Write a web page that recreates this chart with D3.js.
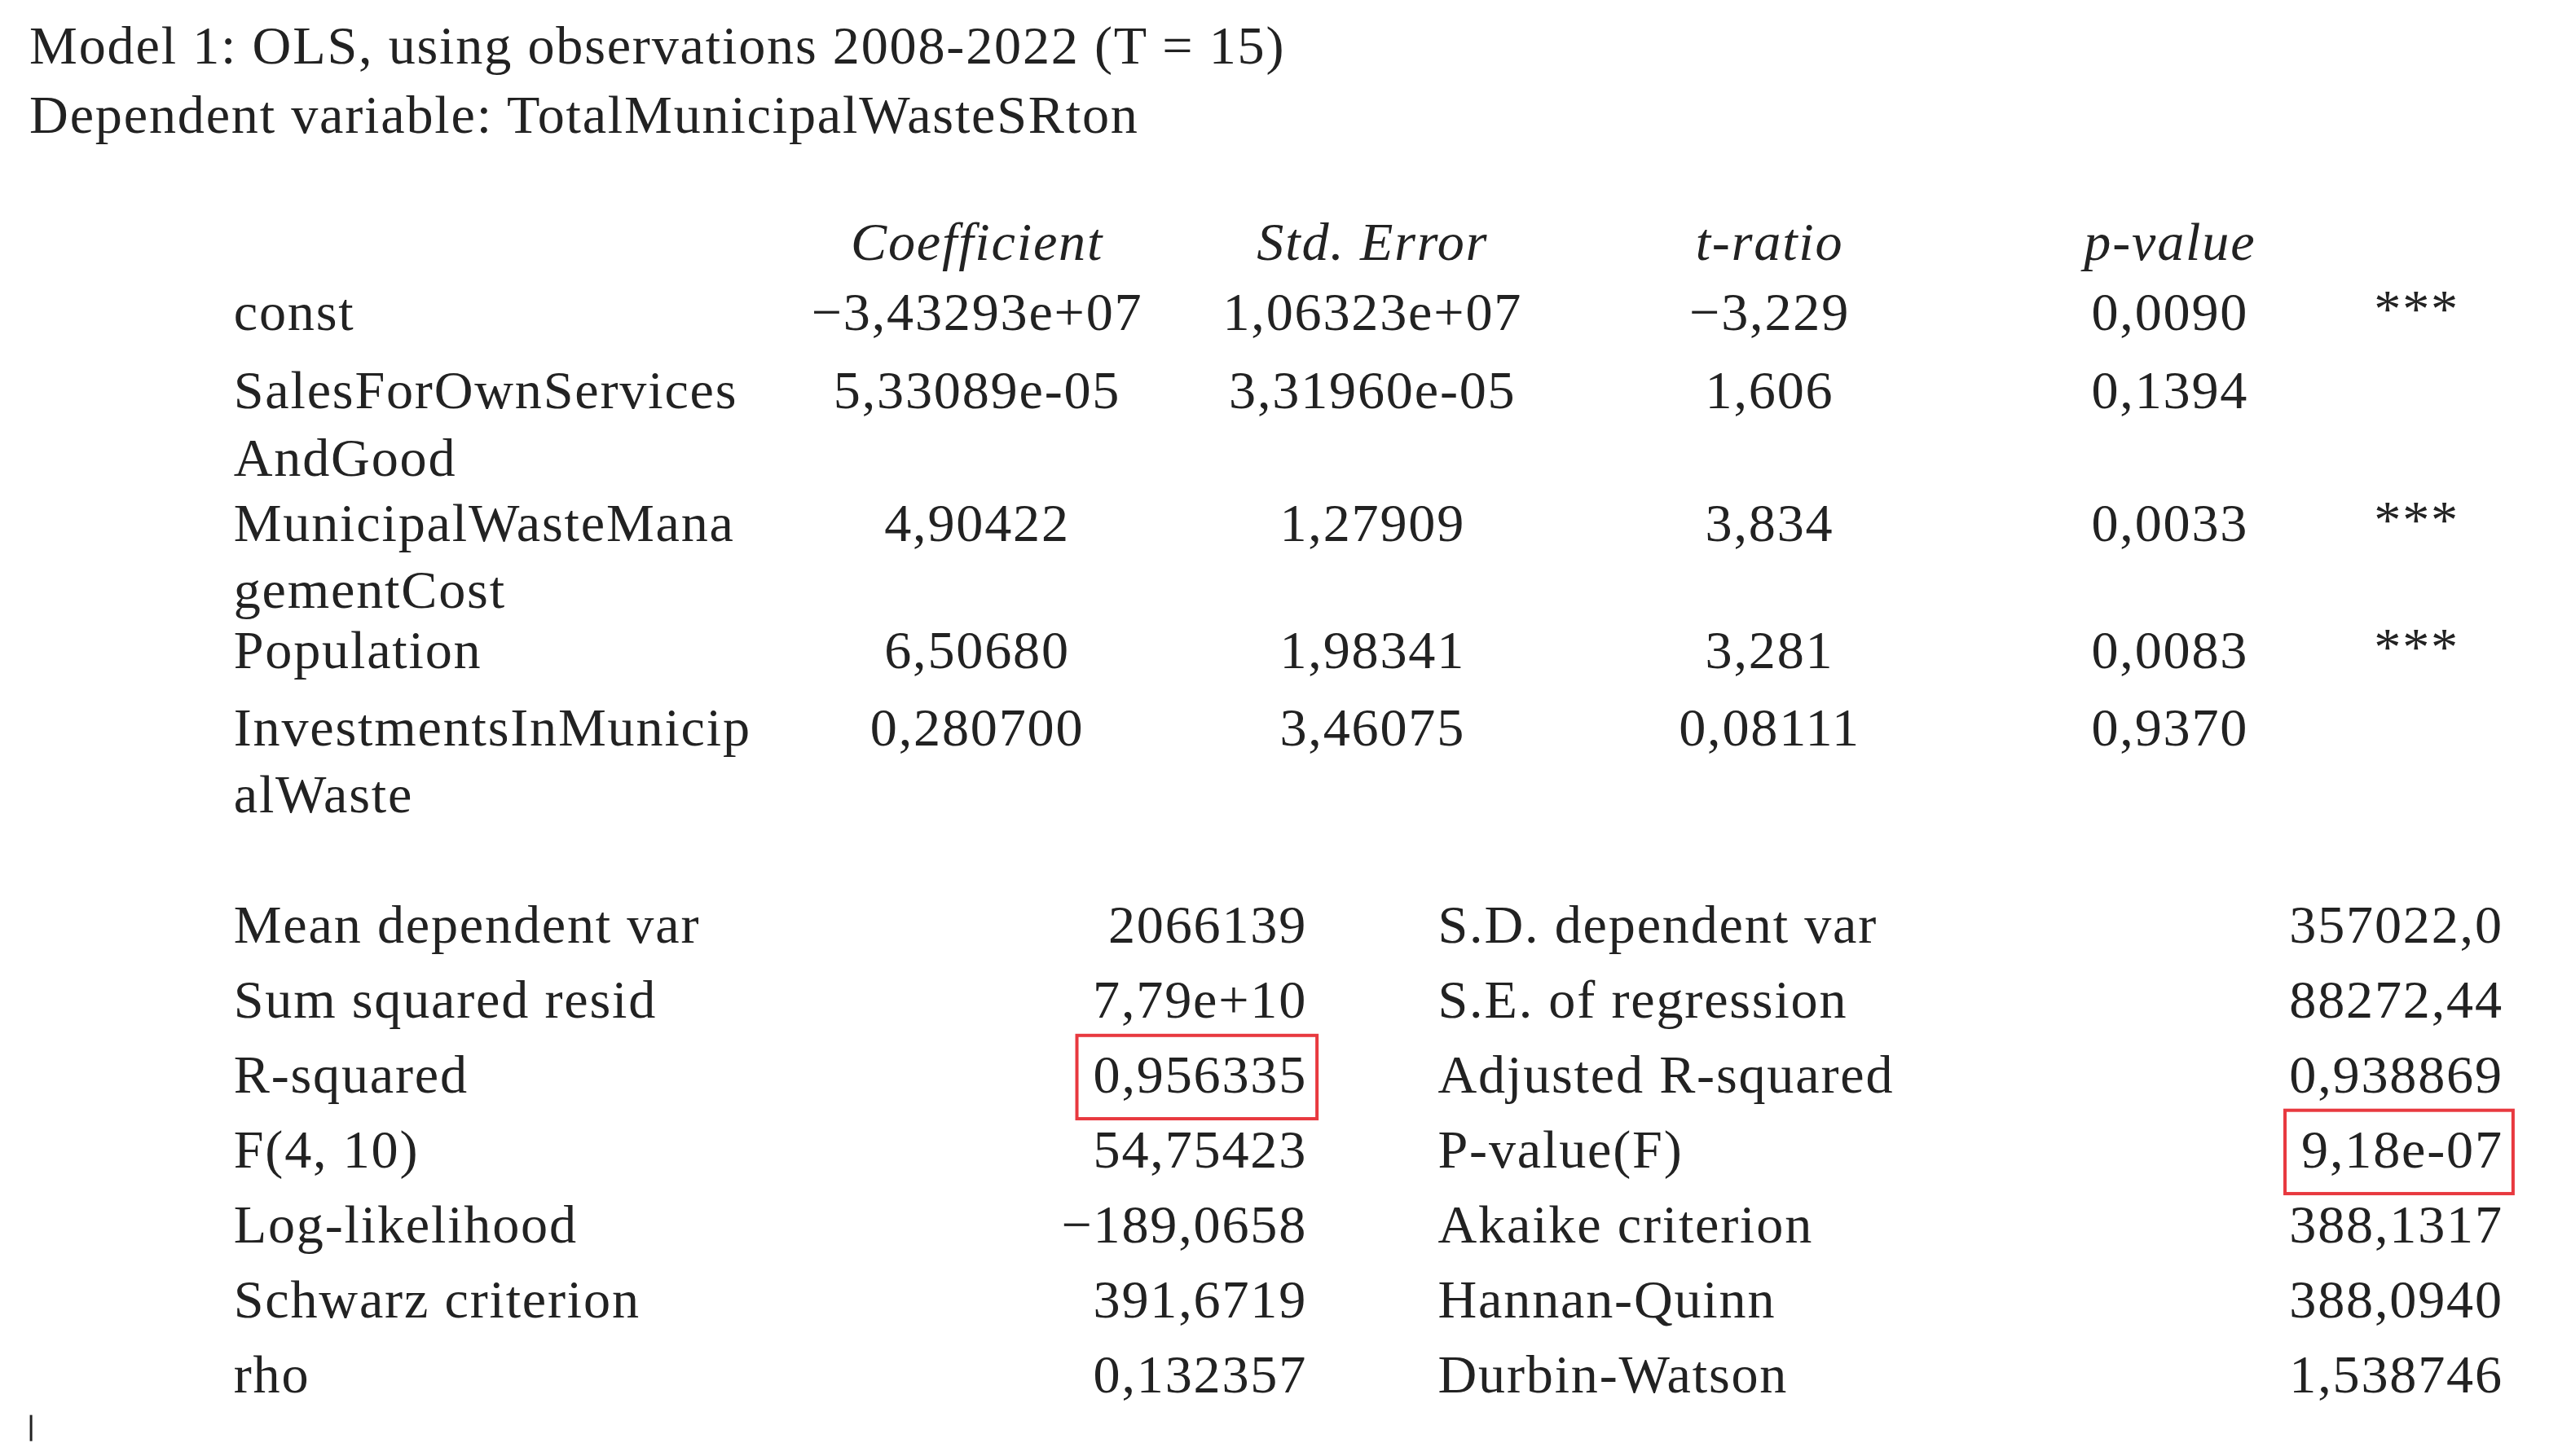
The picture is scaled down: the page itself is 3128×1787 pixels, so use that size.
<!DOCTYPE html>
<html>
<head>
<meta charset="utf-8">
<script src="https://cdn.jsdelivr.net/npm/d3@7"></script>
<style>
  html, body { margin: 0; padding: 0; background: #fff; }
  svg text { font-family: "Liberation Serif", "DejaVu Serif", serif; fill: #222; letter-spacing: 0.9px; }
</style>
</head>
<body>
<svg id="chart" width="3128" height="1787" viewBox="0 0 1560 891"></svg>
<script>
// coefficient table
var varNames = [["const"], ["SalesForOwnServices", "AndGood"], ["MunicipalWasteMana", "gementCost"], ["Population"], ["InvestmentsInMunicip", "alWaste"]];
var coefficients = ["\u22123,43293e+07", "5,33089e-05", "4,90422", "6,50680", "0,280700"];
var stdErrors = ["1,06323e+07", "3,31960e-05", "1,27909", "1,98341", "3,46075"];
var tRatios = ["\u22123,229", "1,606", "3,834", "3,281", "0,08111"];
var pValues = ["0,0090", "0,1394", "0,0033", "0,0083", "0,9370"];
var stars = ["***", "", "***", "***", ""];
var headers = ["Coefficient", "Std. Error", "t-ratio", "p-value"];
var rowBaselines = [202, 250, 331, 409, 456];

// summary statistics
var statLabelsL = ["Mean dependent var", "Sum squared resid", "R-squared", "F(4, 10)", "Log-likelihood", "Schwarz criterion", "rho"];
var statValuesL = ["2066139", "7,79e+10", "0,956335", "54,75423", "\u2212189,0658", "391,6719", "0,132357"];
var statLabelsR = ["S.D. dependent var", "S.E. of regression", "Adjusted R-squared", "P-value(F)", "Akaike criterion", "Hannan-Quinn", "Durbin-Watson"];
var statValuesR = ["357022,0", "88272,44", "0,938869", "9,18e-07", "388,1317", "388,0940", "1,538746"];
var highlighted = [["L", 2], ["R", 3]];

var svg = d3.select("#chart");
var fs = 33;

svg.append("text").attr("x", 18).attr("y", 39).attr("font-size", fs)
  .text("Model 1: OLS, using observations 2008-2022 (T = 15)");
svg.append("text").attr("x", 18).attr("y", 81).attr("font-size", fs)
  .text("Dependent variable: TotalMunicipalWasteSRton");

var colX = d3.scaleOrdinal().domain(headers).range([598, 840, 1083, 1328]);

svg.selectAll(".hdr").data(headers).enter().append("text")
  .attr("x", d => colX(d)).attr("y", 159).attr("font-size", fs)
  .attr("font-style", "italic").attr("text-anchor", "middle").text(d => d);

var rows = svg.selectAll(".row").data(varNames).enter().append("g")
  .attr("transform", (d, i) => "translate(0," + rowBaselines[i] + ")");

rows.each(function(names, i) {
  var g = d3.select(this);
  names.forEach((n, k) => {
    g.append("text").attr("x", 143).attr("y", k * 41).attr("font-size", fs).text(n);
  });
  [coefficients, stdErrors, tRatios, pValues].forEach((arr, c) => {
    g.append("text").attr("x", colX(headers[c])).attr("y", 0).attr("font-size", fs)
      .attr("text-anchor", "middle").text(arr[i]);
  });
  g.append("text").attr("x", 1479).attr("y", -2).attr("font-size", fs)
    .attr("text-anchor", "middle").text(stars[i]);
});

var yStat = d3.scalePoint().domain(d3.range(statLabelsL.length)).range([577, 852]);

function statCol(labels, values, xl, xr, side) {
  labels.forEach((l, i) => {
    svg.append("text").attr("x", xl).attr("y", yStat(i)).attr("font-size", fs).text(l);
    var t = svg.append("text").attr("x", xr).attr("y", yStat(i)).attr("font-size", fs)
      .attr("text-anchor", "end").text(values[i]);
    if (highlighted.some(h => h[0] === side && h[1] === i)) {
      var w = t.node().getComputedTextLength();
      svg.append("rect").attr("x", xr - w - 10).attr("y", yStat(i) - 35)
        .attr("width", w + 16).attr("height", 51)
        .attr("fill", "none").attr("stroke", "#e8393f").attr("stroke-width", 2);
    }
  });
}
statCol(statLabelsL, statValuesL, 143, 800, "L");
statCol(statLabelsR, statValuesR, 880, 1532, "R");

// cursor mark bottom left
svg.append("line").attr("x1", 19).attr("x2", 19).attr("y1", 866).attr("y2", 882)
  .attr("stroke", "#222").attr("stroke-width", 1.5);
</script>
</body>
</html>
